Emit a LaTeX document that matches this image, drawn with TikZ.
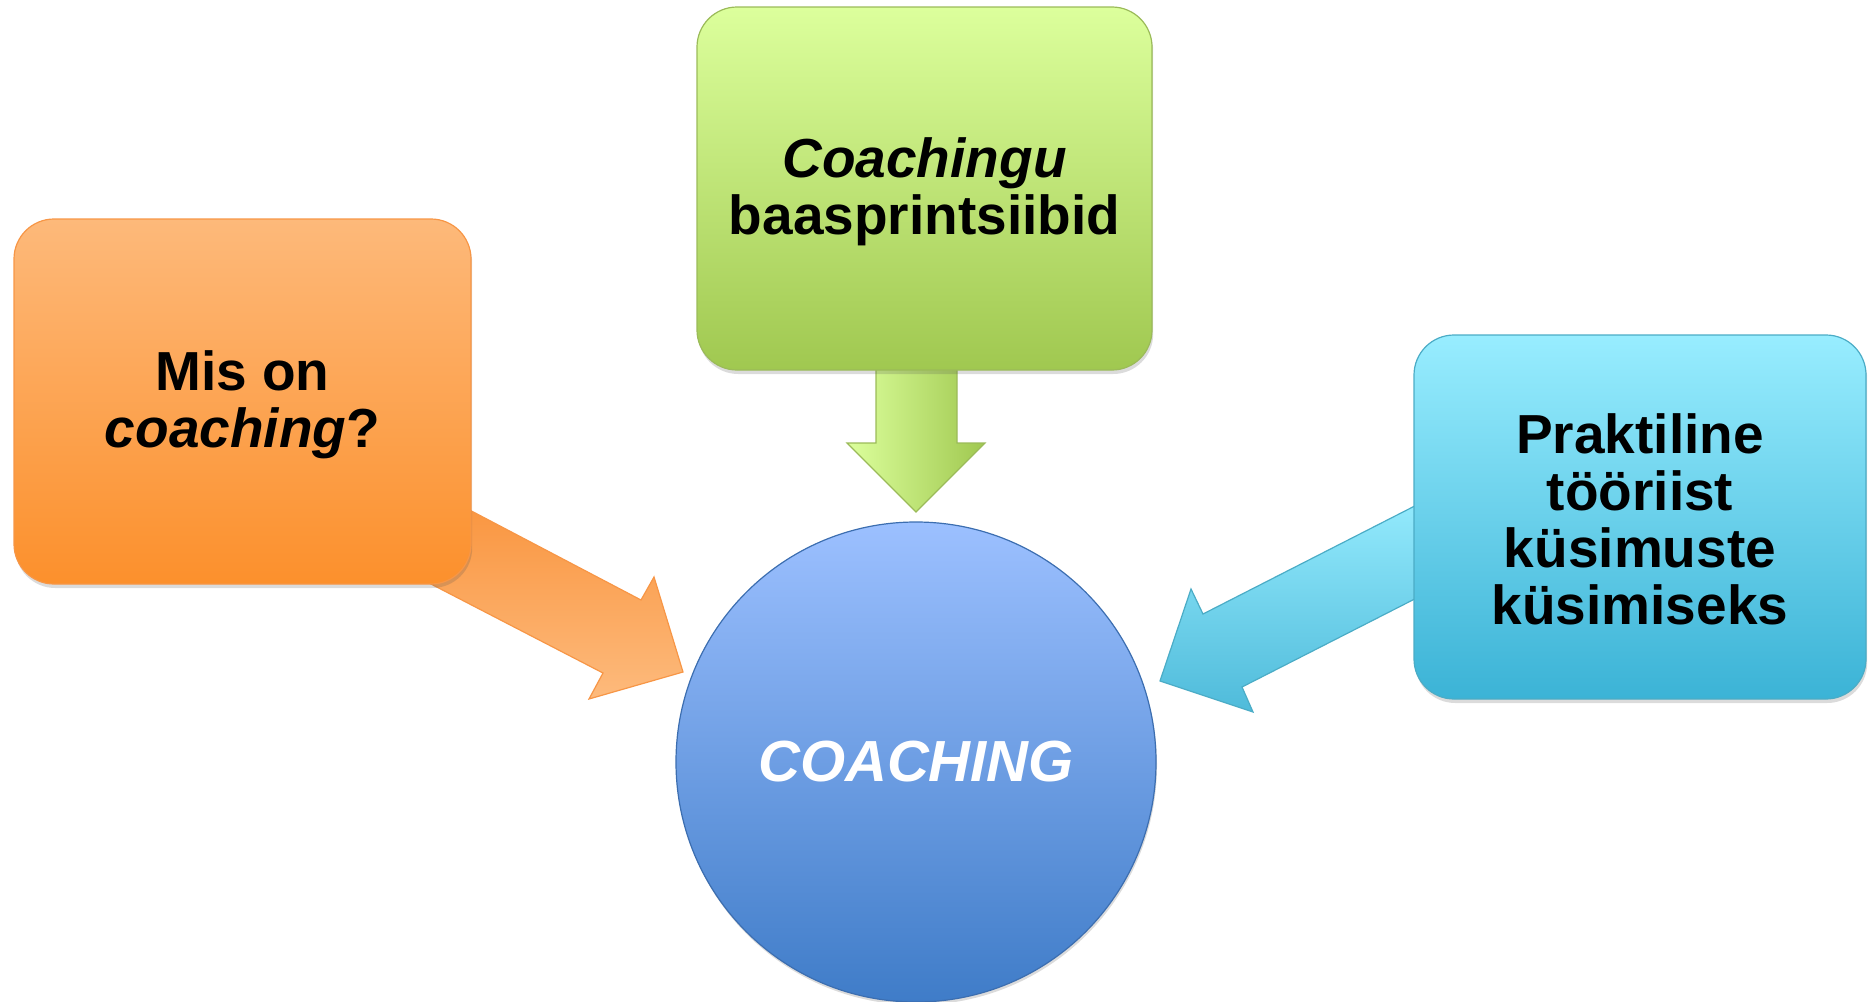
\documentclass[tikz,border=0pt]{standalone}
\usepackage{fontspec}
\setmainfont{Liberation Sans}
\usetikzlibrary{shadows}
\definecolor{orTop}{HTML}{FDB97A}
\definecolor{orBot}{HTML}{FC902C}
\definecolor{orLine}{HTML}{F79646}
\definecolor{orArrL}{HTML}{FDBA7C}
\definecolor{orArrD}{HTML}{F9923A}
\definecolor{grTop}{HTML}{DCFF9C}
\definecolor{grBot}{HTML}{A0C850}
\definecolor{grLine}{HTML}{9BBB59}
\definecolor{blTop}{HTML}{98EDFF}
\definecolor{blBot}{HTML}{3BB3D6}
\definecolor{blLine}{HTML}{4BACC6}
\definecolor{ciTop}{HTML}{9CC0FF}
\definecolor{ciBot}{HTML}{3F7CC8}
\definecolor{ciLine}{HTML}{3C6EB0}
\tikzset{
  boxshape/.style={rounded corners=20pt, line width=0.6pt, inner sep=0pt,
    drop shadow={shadow xshift=0.6pt, shadow yshift=-2pt, opacity=0.2, fill=black!70}},
  lbl/.style={font=\bfseries\fontsize{27.5}{28.5}\selectfont, align=center, text=black},
  blockarrow/.style={line width=0.6pt, line join=miter}
}
\begin{document}
\begin{tikzpicture}[x=0.5pt,y=-0.5pt]
\useasboundingbox (0,0) rectangle (1868,1001);

% block arrows (behind the boxes)
\shade[blockarrow, draw=orLine, shading angle=-35, top color=orArrD, bottom color=orArrL]
  (420,484) -- (641,600) -- (654,577) -- (683,672) -- (589,699) -- (603,673) -- (400,568) -- cycle;
\shade[blockarrow, draw=grLine, left color=grTop, right color=grBot]
  (876,360) -- (876,443) -- (847,443) -- (916,512) -- (985,443) -- (957,443) -- (957,360) -- cycle;
\shade[blockarrow, draw=blLine, shading angle=27, top color=blTop, bottom color=blBot!90]
  (1450,488) -- (1203,614) -- (1191,589) -- (1160,681) -- (1253,712) -- (1242,687) -- (1450,581) -- cycle;

% boxes
\node[boxshape, draw=orLine, top color=orTop, bottom color=orBot,
      minimum width=228.5pt, minimum height=182.5pt] (mis) at (242.5,401.5) {};
\node[lbl] (mist) at ([yshift=-1.5pt]mis.center) {Mis on\\\textit{coaching}?};

\node[boxshape, draw=grLine, top color=grTop, bottom color=grBot,
      minimum width=227.5pt, minimum height=181.5pt] (baas) at (924.5,188.5) {};
\node[lbl] (baast) at ([yshift=-1.5pt]baas.center) {\textit{Coachingu}\\baasprintsiibid};

\node[boxshape, draw=blLine, top color=blTop, bottom color=blBot,
      minimum width=226pt, minimum height=182pt] (prak) at (1640,517) {};
\node[lbl] (prakt) at ([yshift=-1pt]prak.center) {Praktiline\\tööriist\\küsimuste\\küsimiseks};

% central circle
\node[circle, draw=ciLine, line width=0.6pt, top color=ciTop, bottom color=ciBot,
      minimum size=240pt, inner sep=0pt,
      drop shadow={shadow xshift=0.5pt, shadow yshift=-1.5pt, opacity=0.2, fill=black!70}] (coach) at (916,762) {};
\node[font=\bfseries\itshape\fontsize{29}{30}\selectfont, text=white] (coacht) at (coach.center) {COACHING};
\end{tikzpicture}
\end{document}
